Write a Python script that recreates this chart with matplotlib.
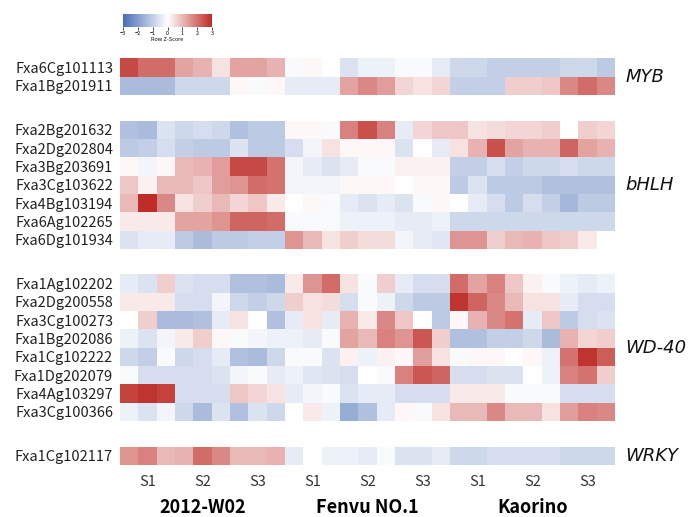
import numpy as np
import matplotlib
matplotlib.use("Agg")
import matplotlib.pyplot as plt
from matplotlib.colors import LinearSegmentedColormap

plt.rcParams['font.family'] = ['Noto Sans CJK SC', 'DejaVu Sans']

# Row Z-scores: 3 cultivars x 3 stages x 3 replicates = 27 columns.
myb_genes = ["Fxa6Cg101113", "Fxa1Bg201911"]
myb = [
    [2.6, 2.1, 2.1, 1.3, 1.1, 0.4, 1.3, 1.3, 1.1, -0.1, 0.1, 0.0, -0.6,
     -0.3, -0.3, -0.1, -0.1, -0.4, -0.8, -0.8, -1.0, -1.0, -1.0, -1.0, -0.8, -0.8, -1.1],
    [-1.4, -1.4, -1.4, -0.8, -0.8, -0.8, 0.1, -0.1, 0.1, -0.4, -0.4, -0.4, 1.3,
     1.7, 1.4, 0.6, 0.4, 0.6, -1.0, -1.0, -1.0, 0.7, 0.7, 0.8, 1.7, 2.1, 1.7],
]

bhlh_genes = ["Fxa2Bg201632", "Fxa2Dg202804", "Fxa3Bg203691", "Fxa3Cg103622",
              "Fxa4Bg103194", "Fxa6Ag102265", "Fxa6Dg101934"]
bhlh = [
    [-1.3, -1.4, -0.6, -0.8, -0.7, -0.8, -1.3, -1.1, -1.1, 0.1, 0.1, -0.1, 1.8,
     2.5, 1.8, -0.4, 0.6, 0.8, 0.8, 0.4, 0.5, 0.6, 0.6, 0.7, 0.0, 0.7, 0.6],
    [-1.1, -1.0, -0.7, -1.0, -1.1, -1.1, -0.6, -1.1, -1.1, -0.7, -0.2, 0.4, 0.1,
     0.1, 0.1, -0.6, 0.0, -0.4, 0.4, 1.1, 2.5, 1.3, 1.1, 1.1, 2.2, 1.3, 1.1],
    [0.1, -0.2, 0.1, 1.0, 1.1, 1.4, 2.6, 2.6, 2.0, -0.2, -0.4, -0.6, -0.4,
     -0.1, -0.1, 0.2, 0.2, 0.2, -1.0, -1.0, -0.7, -1.0, -0.8, -0.8, -0.7, -0.8, -0.8],
    [0.8, 0.2, 1.0, 1.0, 0.8, 1.4, 1.5, 2.1, 2.0, -0.2, -0.2, -0.2, 0.1,
     0.1, 0.1, 0.0, 0.1, 0.1, -1.1, -0.6, -1.1, -1.1, -1.1, -1.3, -1.3, -1.3, -1.3],
    [1.0, 3.0, 1.7, 0.4, 0.7, 1.0, 0.6, 0.8, 0.3, 0.0, 0.1, -0.1, -0.4,
     -0.6, -0.4, -0.6, -0.1, 0.1, 0.0, -0.4, -0.7, -1.1, -0.7, -1.0, -1.5, -1.1, -1.1],
    [0.3, 0.3, 0.3, 1.3, 1.3, 1.5, 2.2, 2.2, 2.1, -0.1, -0.1, -0.1, -0.3,
     -0.3, -0.3, -0.4, -0.4, -0.3, -0.8, -0.8, -0.8, -0.8, -0.8, -0.8, -0.8, -0.8, -0.8],
    [-0.6, -0.4, -0.4, -1.1, -1.4, -1.1, -1.1, -1.0, -1.0, 1.5, 1.0, 0.4, 0.7,
     0.5, 0.5, -0.2, -0.4, -0.5, 1.5, 1.5, 0.7, 1.0, 1.1, 0.8, 0.7, 0.3, 0.0],
]

wd40_genes = ["Fxa1Ag102202", "Fxa2Dg200558", "Fxa3Cg100273", "Fxa1Bg202086",
              "Fxa1Cg102222", "Fxa1Dg202079", "Fxa4Ag103297", "Fxa3Cg100366"]
wd40 = [
    [-0.4, -0.6, 0.7, -0.6, -0.7, -0.7, -1.3, -1.3, -1.4, 0.3, 1.5, 2.1, 0.4,
     -0.1, 0.7, -0.4, -0.7, -0.7, 2.1, 1.3, 1.8, 0.8, 0.2, -0.1, -0.3, -0.4, -0.3],
    [0.3, 0.3, 0.3, -0.7, -0.7, -0.2, -0.8, -1.0, -0.8, 0.7, 0.4, 0.5, -0.7,
     -0.1, -0.3, -0.8, -1.1, -1.1, 2.9, 2.2, 1.7, 1.0, 0.4, 0.4, -0.4, -0.7, -0.7],
    [0.0, 0.7, -1.4, -1.4, -1.3, -0.4, 0.4, 0.0, -1.3, -0.4, 0.4, -0.4, 1.1,
     0.3, 1.7, 0.8, 0.0, -1.1, 0.1, 1.1, 1.7, 2.0, -0.4, 0.8, -1.1, -0.7, -0.6],
    [-0.3, -0.6, -0.2, 0.3, 0.7, 0.1, -0.1, -0.2, -0.3, -0.3, -0.4, -0.1, 1.3,
     1.0, 1.8, 1.5, 2.4, 0.7, -1.3, -1.3, -1.0, -1.0, -0.8, -1.4, 1.1, 0.6, 0.7],
    [-0.8, -1.0, -0.1, -0.8, -0.7, -0.4, -1.3, -1.4, -0.8, -0.1, -0.1, -0.6, 0.2,
     -0.3, 0.2, 0.1, 1.4, 0.4, -0.1, 0.1, 0.1, 0.0, 0.1, -0.3, 2.0, 2.9, 2.3],
    [-0.1, -0.7, -0.7, -0.7, -0.7, -0.6, -0.2, -0.1, -0.4, -0.3, -0.5, -0.6, -0.7,
     0.0, -0.1, 1.8, 2.4, 2.2, -0.7, -0.7, -0.6, -0.6, 0.0, -0.3, 1.8, 2.0, 0.7],
    [2.7, 2.9, 2.7, -0.7, -0.7, -0.7, 0.8, 0.6, 0.4, -0.4, -0.2, -0.1, -0.6,
     -0.4, -0.4, -0.7, -0.7, -0.7, 0.3, 0.3, 0.3, -0.1, -0.1, -0.1, -0.7, -0.7, -0.7],
    [-0.3, -0.6, -0.2, -0.8, -1.4, -0.6, -1.3, -0.6, -0.8, 0.0, 0.3, -0.3, -1.7,
     -1.3, -0.4, 0.1, -0.1, 0.4, 1.0, 1.0, 1.7, 1.0, 1.0, 0.4, 1.4, 1.8, 1.7],
]

wrky_genes = ["Fxa1Cg102117"]
wrky = [
    [1.5, 1.8, 1.0, 1.1, 2.1, 1.7, 1.0, 1.0, 1.1, -0.4, 0.0, -0.3, -0.3,
     -0.4, -0.1, -0.6, -0.6, -0.4, -0.8, -0.8, -0.7, -0.7, -0.7, -0.7, -0.8, -0.8, -0.8],
]

families = ["MYB", "bHLH", "WD-40", "WRKY"]
cultivars = ["2012-W02", "Fenvu NO.1", "Kaorino"]
stages = ["S1", "S2", "S3"]

groups = [(myb_genes, myb), (bhlh_genes, bhlh), (wd40_genes, wd40), (wrky_genes, wrky)]

cmap = LinearSegmentedColormap.from_list("zscore", ["#4a6eb4", "#ffffff", "#be2d28"])

fig = plt.figure(figsize=(6.9, 5.17), dpi=100)
ax = fig.add_axes([120 / 690, 1 - 465 / 517, 495 / 690, 406.7 / 517])

gap = 1.4
ncol = len(myb[0])
x_edges = np.arange(ncol + 1)
y0 = 0.0
yticks, ylabels = [], []
for (genes, vals), fam in zip(groups, families):
    arr = np.array(vals)
    y_edges = y0 + np.arange(arr.shape[0] + 1)
    ax.pcolormesh(x_edges, y_edges, arr, cmap=cmap, vmin=-3, vmax=3)
    yticks += list(y0 + 0.5 + np.arange(len(genes)))
    ylabels += genes
    ax.text(ncol + 0.55, y0 + arr.shape[0] / 2, fam, ha="left", va="center",
            fontsize=13, style="italic", family="DejaVu Sans", color="#111111")
    y0 += arr.shape[0] + gap
ax.set_xlim(0, ncol)
ax.set_ylim(y0 - gap, 0)

ax.set_yticks(yticks)
ax.set_yticklabels(ylabels, fontsize=10.5, color="#222222")
ax.set_xticks([1.5 + 3 * i for i in range(9)])
ax.set_xticklabels(stages * 3, fontsize=10.5, color="#333333")
ax.tick_params(length=0, pad=5)
ax.tick_params(axis="x", pad=7)
for s in ax.spines.values():
    s.set_visible(False)

for i, c in enumerate(cultivars):
    ax.text(4.5 + 9 * i, -0.104, c, ha="center", va="center", fontsize=13,
            fontweight="bold", transform=ax.get_xaxis_transform())

# colour key
cax = fig.add_axes([123 / 690, 1 - 26.7 / 517, 89 / 690, 12.4 / 517])
grad = np.linspace(-3, 3, 256).reshape(1, -1)
cax.imshow(grad, aspect="auto", cmap=cmap, extent=[-3, 3, 0, 1])
cax.set_yticks([])
cax.set_xticks(range(-3, 4))
cax.tick_params(axis="x", labelsize=4, length=2, width=0.5, pad=1)
cax.set_xlabel("Row Z-Score", fontsize=4, labelpad=1)
for s in cax.spines.values():
    s.set_visible(False)

fig.savefig("out.png", dpi=100)
